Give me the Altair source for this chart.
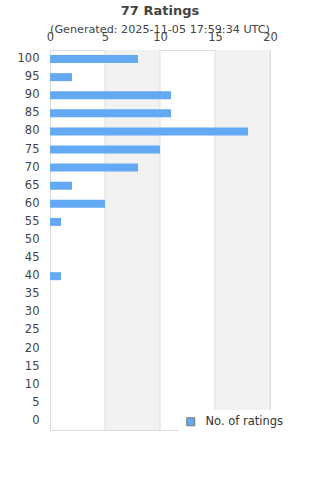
import altair as alt
import pandas as pd

ratings = [100, 95, 90, 85, 80, 75, 70, 65, 60, 55, 50, 45, 40, 35, 30, 25, 20, 15, 10, 5, 0]
counts = [8, 2, 11, 11, 18, 10, 8, 2, 5, 1, 0, 0, 1, 0, 0, 0, 0, 0, 0, 0, 0]
series_name = "No. of ratings"
x_ticks = [0, 5, 10, 15, 20]
band_starts = [5, 15]
band_ends = [10, 20]
grid_vals = [5, 10, 15, 20]
title_text = "77 Ratings"
subtitle_text = "(Generated: 2025-11-05 17:59:34 UTC)"

labels = [str(r) for r in ratings]
df = pd.DataFrame({"rating": labels, "count": counts, "series": series_name})
bands = pd.DataFrame({"start": band_starts, "end": band_ends})
grid = pd.DataFrame({"v": grid_vals})

xscale = alt.Scale(domain=[0, 20], nice=False)
FONT = "DejaVu Sans"

band_layer = alt.Chart(bands).mark_rect(color="#f2f2f2").encode(
    x=alt.X("start:Q", scale=xscale, axis=alt.Axis(orient="top", values=x_ticks, grid=False,
                                                  ticks=False, domain=False, labelFontSize=11.5,
                                                  labelColor="#444", labelPadding=8, title=None,
                                                  labelFont=FONT, labelFlush=False,
                                                  labelOverlap=False)),
    x2="end:Q",
)

grid_layer = alt.Chart(grid).mark_rule(color="#dddddd", strokeWidth=1).encode(
    x=alt.X("v:Q", scale=xscale),
)

bars = alt.Chart(df).mark_bar(size=8).encode(
    x=alt.X("count:Q", scale=xscale),
    y=alt.Y("rating:N", sort=labels, scale=alt.Scale(paddingInner=0.5, paddingOuter=0.25),
            axis=alt.Axis(ticks=False, domain=False, labelFontSize=11.5, labelColor="#444",
                          labelPadding=11, title=None, labelFont=FONT, grid=False)),
    color=alt.Color("series:N", scale=alt.Scale(domain=[series_name], range=["#63a9f3"]),
                    legend=alt.Legend(orient="none", legendX=129, legendY=360, title=None,
                                      fillColor="white", padding=6, symbolType="square",
                                      symbolSize=64, symbolStrokeColor="#777777",
                                      symbolStrokeWidth=1, labelFontSize=11.5, labelColor="#333",
                                      labelFont=FONT, symbolOffset=0, labelOffset=9)),
)

title_layer = alt.Chart(pd.DataFrame({"t": [title_text]})).mark_text(
    fontSize=13, fontWeight="bold", color="#444", font=FONT, baseline="middle", align="center"
).encode(x=alt.value(110), y=alt.value(-39), text="t:N")

subtitle_layer = alt.Chart(pd.DataFrame({"t": [subtitle_text]})).mark_text(
    fontSize=11.2, color="#444", font=FONT, baseline="middle", align="center"
).encode(x=alt.value(110), y=alt.value(-20), text="t:N")

chart = alt.layer(band_layer, grid_layer, bars, title_layer, subtitle_layer).properties(
    width=220, height=380,
    autosize=alt.AutoSizeParams(type="none"),
    padding={"left": 50, "top": 50, "right": 50, "bottom": 50},
).configure_view(stroke="#dddddd", strokeWidth=1, fill="white")

chart.save("out.html", embed_options={"renderer": "svg", "actions": False})
